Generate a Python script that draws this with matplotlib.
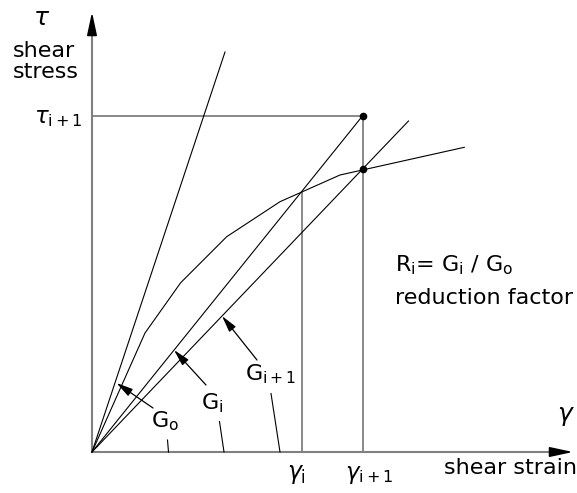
# backbone curve sketch: secant shear modulus G_i and reduction factor R_i
import matplotlib
matplotlib.use("Agg")
import matplotlib.pyplot as plt

# backbone (shear strain, shear stress) in drawing units
backbone_strain = [0, 53, 88.7, 134.7, 188, 248, 372.3]
backbone_stress = [0, 119, 169.3, 215.3, 250.3, 277, 304.7]

gamma_i, gamma_i1 = 210.0, 270.7
tau_i1 = 336.3
tau_on_curve = 283.0

g0_end = (133, 400)
gi_end = (gamma_i1, tau_i1)
gi1_end = (316.5, 331)

# arrow labels: (label, tail, tip, text pos, leader start, leader end)
labels = [
    (r"G$_{\rm o}$", (61, 44), (24.5, 69), (59, 31), (75.5, 12), (76.5, 0)),
    (r"G$_{\rm i}$", (114, 67), (82, 102), (109, 49), (127.5, 30.5), (132, 0)),
    (r"G$_{\rm i+1}$", (165, 92), (130, 136), (153, 78), (179, 58.5), (188, 0)),
]

grey = "#808080"
ink = "#000000"
fs = 16

plt.rcParams["font.family"] = ["DejaVu Sans"]
plt.rcParams["mathtext.fontset"] = "dejavusans"

fig = plt.figure(figsize=(5.77, 4.93), dpi=100)
ax = fig.add_axes([0, 0, 1, 1])
ax.set_xlim(-92, 485)
ax.set_ylim(-41, 452)
ax.axis("off")

# axes with arrow heads
ax.plot([0, 0], [0, 420], color=grey, lw=1.5)
ax.plot([0, 462], [0, 0], color=grey, lw=1.5)
ax.annotate("", xy=(0, 440), xytext=(0, 418),
            arrowprops=dict(arrowstyle="-|>,head_length=1.4,head_width=0.3",
                            color=ink, lw=1.2, shrinkA=0, shrinkB=0))
ax.annotate("", xy=(481, 0), xytext=(460, 0),
            arrowprops=dict(arrowstyle="-|>,head_length=1.4,head_width=0.3",
                            color=ink, lw=1.2, shrinkA=0, shrinkB=0))

# guide lines
ax.plot([0, gamma_i1], [tau_i1, tau_i1], color=grey, lw=1.3)
ax.plot([gamma_i, gamma_i], [0, 259], color=grey, lw=1.3)
ax.plot([gamma_i1, gamma_i1], [0, tau_i1], color=grey, lw=1.3)

# secant lines and backbone
ax.plot([0, g0_end[0]], [0, g0_end[1]], color=ink, lw=0.8)
ax.plot([0, gi_end[0]], [0, gi_end[1]], color=ink, lw=0.8)
ax.plot([0, gi1_end[0]], [0, gi1_end[1]], color=ink, lw=0.8)
ax.plot(backbone_strain, backbone_stress, color=ink, lw=0.8)
ax.plot([gamma_i1, gamma_i1], [tau_i1, tau_on_curve], "o", color=ink, ms=4.5)

for lab, tail, tip, tpos, l0, l1 in labels:
    ax.annotate("", xy=tip, xytext=tail,
                arrowprops=dict(arrowstyle="-|>,head_length=1.0,head_width=0.25",
                                color=ink, lw=0.9, shrinkA=0, shrinkB=0))
    ax.text(tpos[0], tpos[1], lab, fontsize=fs, ha="left", va="center")
    ax.plot([l0[0], l1[0]], [l0[1], l1[1]], color=ink, lw=0.8)

# axis labels
ax.text(-50, 434, r"$\tau$", fontsize=18, ha="center", va="center")
ax.text(-79, 401, "shear", fontsize=fs, ha="left", va="center")
ax.text(-79, 380, "stress", fontsize=fs, ha="left", va="center")
ax.text(-58, 335, r"$\tau_{\rm i+1}$", fontsize=16.5, ha="left", va="center")
ax.text(474, 36, r"$\gamma$", fontsize=18, ha="center", va="center")
ax.text(485, -16, "shear strain", fontsize=fs, ha="right", va="center")
ax.text(195, -22, r"$\gamma_{\rm i}$", fontsize=17, ha="left", va="center")
ax.text(253, -22, r"$\gamma_{\rm i+1}$", fontsize=16.5, ha="left", va="center")
ax.text(303, 187, r"R$_{\rm i}$= G$_{\rm i}$ / G$_{\rm o}$", fontsize=fs,
        ha="left", va="center")
ax.text(303, 154, "reduction factor", fontsize=fs, ha="left", va="center")

fig.savefig("out.png", dpi=100)
